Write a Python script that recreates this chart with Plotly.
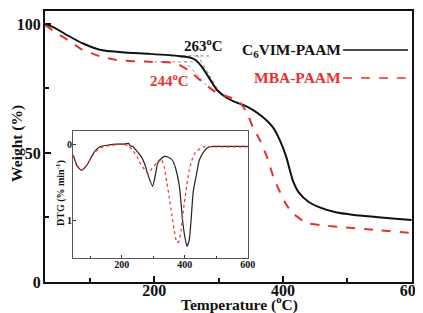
import plotly.graph_objects as go

# TGA data
temp_c6 = [30, 45, 64, 90, 115, 150, 192, 238, 255, 264, 275, 287, 297, 313, 325, 338, 353, 368, 384, 395, 405, 415, 425, 440, 456, 482, 510, 544, 570, 600]
wt_c6 = [100, 98.5, 95.7, 92.3, 90, 89, 88.4, 87.6, 87, 86, 83, 78.3, 74.5, 71.3, 69.8, 68.6, 66.7, 64, 60, 55, 48.5, 39.5, 34.5, 31, 29, 27, 26, 25.2, 24.6, 24]
temp_mba = [30, 48, 70, 88, 115, 141, 192, 233, 253, 270, 284, 298, 318, 333, 344, 353, 364, 375, 386, 396, 405, 415, 436, 460, 491, 540, 600]
wt_mba = [99.6, 96.5, 93, 90, 87.5, 86, 85.3, 84.8, 82, 78.5, 75.6, 73.2, 71.5, 69.5, 65.5, 60, 55, 48.5, 40, 34.5, 30, 26.7, 23, 22, 21.3, 20.2, 19]

# DTG data (inset)
dtg_t_c6 = [46, 58, 72, 90, 110, 130, 160, 183, 205, 222, 226, 235, 246, 260, 272, 285, 298, 306, 314, 325, 335, 348, 361, 372, 383, 393, 400, 407, 414, 420, 426, 430, 437, 446, 460, 477, 500, 550, 600]
dtg_c6 = [0.14, 0.28, 0.34, 0.27, 0.12, 0.035, 0.01, 0.0, 0.0, -0.01, 0.02, 0.03, 0.08, 0.15, 0.25, 0.42, 0.55, 0.42, 0.25, 0.19, 0.16, 0.17, 0.21, 0.33, 0.55, 0.99, 1.2, 1.33, 1.25, 0.99, 0.65, 0.54, 0.4, 0.21, 0.1, 0.035, 0.03, 0.03, 0.03]
dtg_t_mba = [46, 58, 72, 90, 110, 130, 160, 204, 220, 235, 248, 259, 272, 283, 296, 309, 325, 335, 343, 351, 359, 367, 375, 381, 388, 398, 406, 414, 425, 435, 461, 500, 550, 600]
dtg_mba = [0.14, 0.28, 0.34, 0.27, 0.13, 0.05, 0.02, 0.0, 0.02, 0.08, 0.16, 0.25, 0.33, 0.38, 0.32, 0.25, 0.19, 0.3, 0.5, 0.7, 0.92, 1.13, 1.28, 1.27, 1.13, 0.78, 0.55, 0.34, 0.18, 0.1, 0.035, 0.035, 0.035, 0.035]

# onset tangent construction lines
onset_c6_h_t = [225, 285]
onset_c6_h_w = [87.6, 87.6]
onset_c6_t_t = [262, 300]
onset_c6_t_w = [90, 74]
onset_mba_h_t = [190, 262]
onset_mba_h_w = [85.3, 85.3]
onset_mba_t_t = [240, 282]
onset_mba_t_w = [87.5, 76]

FONT = "Liberation Serif"
BLACK = "#111111"
RED = "#e8312f"

fig = go.Figure()
fig.add_trace(go.Scatter(x=onset_c6_h_t, y=onset_c6_h_w, mode="lines", line=dict(color="#777", width=1, dash="dot"), showlegend=False))
fig.add_trace(go.Scatter(x=onset_c6_t_t, y=onset_c6_t_w, mode="lines", line=dict(color="#777", width=1, dash="dot"), showlegend=False))
fig.add_trace(go.Scatter(x=onset_mba_h_t, y=onset_mba_h_w, mode="lines", line=dict(color="#999", width=1, dash="dot"), showlegend=False))
fig.add_trace(go.Scatter(x=onset_mba_t_t, y=onset_mba_t_w, mode="lines", line=dict(color="#999", width=1, dash="dot"), showlegend=False))
fig.add_trace(go.Scatter(x=temp_c6, y=wt_c6, mode="lines", line=dict(color=BLACK, width=2, shape="spline", smoothing=0.6), showlegend=False))
fig.add_trace(go.Scatter(x=temp_mba, y=wt_mba, mode="lines", line=dict(color=RED, width=2, dash="dash", shape="spline", smoothing=0.6), showlegend=False))

fig.add_trace(go.Scatter(x=dtg_t_c6, y=dtg_c6, mode="lines", xaxis="x2", yaxis="y2", line=dict(color="#222", width=1.2, shape="spline", smoothing=0.5), showlegend=False))
fig.add_trace(go.Scatter(x=dtg_t_mba, y=dtg_mba, mode="lines", xaxis="x2", yaxis="y2", line=dict(color=RED, width=1.2, dash="dot", shape="spline", smoothing=0.5), showlegend=False))

# page body adds an 8px offset; figure sized to fit the 423x313 window
fig.update_layout(
    width=415, height=305,
    margin=dict(l=37, r=11, t=3, b=31),
    paper_bgcolor="white", plot_bgcolor="white",
    font=dict(family=FONT, color=BLACK),
    xaxis=dict(range=[30, 600.5], tick0=0, dtick=200, ticks="inside", ticklen=6, tickwidth=2, tickcolor=BLACK,
               minor=dict(dtick=100, ticks="inside", ticklen=4, tickwidth=2, tickcolor=BLACK),
               showline=True, linewidth=2, linecolor=BLACK, mirror=True, showgrid=False, zeroline=False,
               automargin=False, ticklabelstandoff=-7, ticklabeloverflow="allow",
               tickfont=dict(family=FONT, size=16, color=BLACK, weight="bold")),
    yaxis=dict(range=[0, 105], tick0=0, dtick=50, ticks="inside", ticklen=6, tickwidth=2, tickcolor=BLACK,
               minor=dict(dtick=25, ticks="inside", ticklen=4, tickwidth=2, tickcolor=BLACK),
               showline=True, linewidth=2, linecolor=BLACK, mirror=True, showgrid=False, zeroline=False,
               automargin=False, ticklabelstandoff=-1, ticklabeloverflow="allow",
               tickfont=dict(family=FONT, size=16, color=BLACK, weight="bold")),
    xaxis2=dict(domain=[0.076, 0.553], anchor="y2", range=[45, 600.5], tick0=0, dtick=200, ticks="inside", ticklen=3,
                minor=dict(dtick=100, ticks="inside", ticklen=2, tickcolor="#333"),
                tickcolor="#333", showline=True, linewidth=1, linecolor="#555", mirror=True, showgrid=False, zeroline=False,
                automargin=False, ticklabelstandoff=-3, ticklabeloverflow="allow",
                tickfont=dict(family=FONT, size=10, color=BLACK, weight="bold")),
    yaxis2=dict(domain=[0.089, 0.557], anchor="x2", range=[1.48, -0.17], tickvals=[0, 1], ticks="inside", ticklen=3,
                tickcolor="#333", showline=True, linewidth=1, linecolor="#555", mirror=True, showgrid=False, zeroline=False,
                automargin=False, ticklabelstandoff=-2, ticklabeloverflow="allow",
                tickfont=dict(family=FONT, size=10, color=BLACK, weight="bold")),
)

ann = [
    dict(x=0.433, y=0.875, text="<b>263<sup>o</sup>C</b>", font=dict(family=FONT, size=15, color=BLACK)),
    dict(x=0.338, y=0.745, text="<b>244<sup>o</sup>C</b>", font=dict(family=FONT, size=15, color=RED)),
    dict(x=0.812, y=0.856, text="<b>C<sub>6</sub>VIM-PAAM</b>", font=dict(family=FONT, size=15.5, color=BLACK), xanchor="right"),
    dict(x=0.812, y=0.753, text="<b>MBA-PAAM</b>", font=dict(family=FONT, size=15.5, color=RED), xanchor="right"),
    dict(x=0.53, y=-0.081, text="<b>Temperature (<sup>o</sup>C)</b>", font=dict(family=FONT, size=15.5, color=BLACK)),
    dict(x=-0.076, y=0.51, text="<b>Weight (%)</b>", font=dict(family=FONT, size=15.5, color=BLACK), textangle=-90),
    dict(x=0.042, y=0.33, text="<b>DTG (% min<sup>-1</sup>)</b>", font=dict(family=FONT, size=10, color=BLACK), textangle=-90),
]
for a in ann:
    a.setdefault("xanchor", "center")
    fig.add_annotation(xref="paper", yref="paper", showarrow=False, yanchor="middle", **a)

fig.add_shape(type="line", xref="paper", yref="paper", x0=0.812, x1=0.989, y0=0.856, y1=0.856, line=dict(color=BLACK, width=1.5))
fig.add_shape(type="line", xref="paper", yref="paper", x0=0.812, x1=0.983, y0=0.753, y1=0.753, line=dict(color=RED, width=1.5, dash="dash"))

fig.write_html("out.html")
